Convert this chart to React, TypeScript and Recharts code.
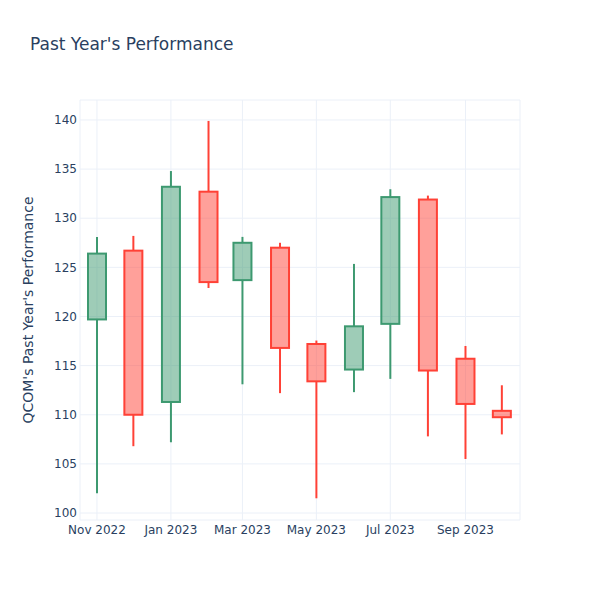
import { ComposedChart, Bar, XAxis, YAxis, CartesianGrid } from "recharts";

const FONT = "'DejaVu Sans', Verdana, sans-serif";
const TEXT = "#2a3f5f";

// monthly candles, first day of month (UTC)
const MONTHS = [
  "2022-11-01", "2022-12-01", "2023-01-01", "2023-02-01", "2023-03-01", "2023-04-01",
  "2023-05-01", "2023-06-01", "2023-07-01", "2023-08-01", "2023-09-01", "2023-10-01",
];
const OPEN = [119.7, 126.7, 111.3, 132.7, 123.7, 127.0, 117.2, 114.6, 119.25, 131.9, 115.7, 110.4];
const HIGH = [128.1, 128.2, 134.8, 139.9, 128.1, 127.5, 117.55, 125.35, 132.95, 132.3, 117.0, 113.0];
const LOW = [102.0, 106.8, 107.2, 122.9, 113.1, 112.2, 101.5, 112.3, 113.65, 107.8, 105.5, 108.0];
const CLOSE = [126.4, 110.0, 133.2, 123.5, 127.5, 116.8, 113.4, 119.0, 132.15, 114.5, 111.1, 109.75];

const Y_TICKS = [100, 105, 110, 115, 120, 125, 130, 135, 140];
const X_TICKS = ["2022-11-01", "2023-01-01", "2023-03-01", "2023-05-01", "2023-07-01", "2023-09-01"];
const MONTH_NAMES = ["Jan", "Feb", "Mar", "Apr", "May", "Jun", "Jul", "Aug", "Sep", "Oct", "Nov", "Dec"];

const ts = (s: string) => Date.parse(s + "T00:00:00Z");

const data = MONTHS.map((m, i) => ({
  t: ts(m),
  open: OPEN[i],
  high: HIGH[i],
  low: LOW[i],
  close: CLOSE[i],
  range: [LOW[i], HIGH[i]],
}));

const UP = { line: "#3D9970", fill: "rgba(61,153,112,0.5)" };
const DOWN = { line: "#FF4136", fill: "rgba(255,65,54,0.5)" };

const Candle = (props: any) => {
  const { x, y, width, height, payload } = props;
  if (!payload || height == null) return null;
  const { open, close, high, low } = payload;
  const pxPerUnit = height / (high - low);
  const toY = (v: number) => y + (high - v) * pxPerUnit;
  const c = close >= open ? UP : DOWN;
  const top = toY(Math.max(open, close));
  const bot = toY(Math.min(open, close));
  const cx = x + width / 2;
  return (
    <g>
      <line x1={cx} x2={cx} y1={y} y2={top} stroke={c.line} strokeWidth={2} />
      <line x1={cx} x2={cx} y1={bot} y2={y + height} stroke={c.line} strokeWidth={2} />
      <rect x={x} y={top} width={width} height={Math.max(bot - top, 1)} fill={c.fill} stroke={c.line} strokeWidth={2} />
    </g>
  );
};

const fmtDate = (v: number) => {
  const d = new Date(v);
  return `${MONTH_NAMES[d.getUTCMonth()]} ${d.getUTCFullYear()}`;
};

export default function App() {
  return (
    <div style={{ position: "absolute", left: 0, top: 0, width: 600, height: 600, background: "#fff", fontFamily: FONT }}>
      <div style={{ position: "absolute", left: 30, top: 34, fontSize: 17, color: TEXT, whiteSpace: "nowrap" }}>
        Past Year's Performance
      </div>
      <ComposedChart
        width={600}
        height={600}
        data={data}
        margin={{ top: 100, right: 80, bottom: 50, left: 20 }}
      >
        <CartesianGrid stroke="#EBF0F8" strokeWidth={1} />
        <XAxis
          dataKey="t"
          type="number"
          scale="time"
          domain={[ts("2022-10-18"), ts("2023-10-16")]}
          ticks={X_TICKS.map(ts)}
          tickFormatter={fmtDate}
          height={30}
          tickLine={false}
          axisLine={false}
          tickSize={0}
          tickMargin={5}
          tick={{ fill: TEXT, fontSize: 12, fontFamily: FONT }}
          allowDataOverflow
        />
        <YAxis
          type="number"
          domain={[99.29, 142.03]}
          ticks={Y_TICKS}
          width={60}
          tickLine={false}
          axisLine={false}
          tickSize={0}
          tickMargin={3}
          tick={{ fill: TEXT, fontSize: 12, fontFamily: FONT }}
          allowDataOverflow
          label={{
            value: "QCOM's Past Year's Performance",
            angle: -90,
            position: "center",
            dx: -22,
            style: { fill: TEXT, fontSize: 14, fontFamily: FONT, textAnchor: "middle" },
          }}
        />
        <Bar dataKey="range" barSize={18} shape={<Candle />} isAnimationActive={false} />
      </ComposedChart>
    </div>
  );
}
